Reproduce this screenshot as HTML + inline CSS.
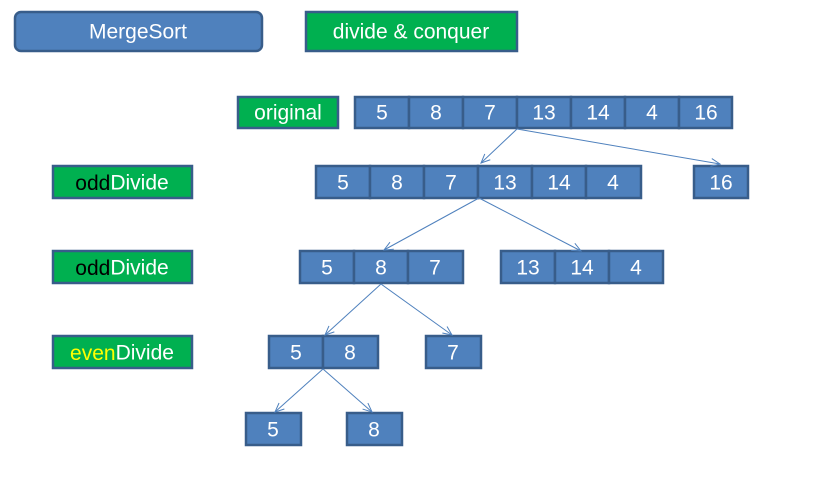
<!DOCTYPE html>
<html><head><meta charset="utf-8"><style>
html,body{margin:0;padding:0;background:#fff;width:819px;height:500px;overflow:hidden}
svg text{font-family:"Liberation Sans",sans-serif;font-size:21px;fill:#fff;text-anchor:middle;dominant-baseline:central}
</style></head><body>
<svg width="819" height="500" viewBox="0 0 819 500" xmlns="http://www.w3.org/2000/svg">
<defs>
<marker id="a" markerWidth="12" markerHeight="12" refX="10" refY="5" orient="auto" markerUnits="userSpaceOnUse">
<path d="M1,1 L10,5 L1,9" fill="none" stroke="#4f81bd" stroke-width="1"/>
</marker>
</defs>
<g stroke="#385d8a" stroke-width="2.5">
<rect x="15" y="12" width="247" height="39" rx="6" fill="#4f81bd"/>
<rect x="306" y="12" width="211" height="39" fill="#00b050"/>
<rect x="238" y="97" width="100" height="31" fill="#00b050"/>
<rect x="53" y="166" width="139" height="32" fill="#00b050"/>
<rect x="53" y="251" width="139" height="32" fill="#00b050"/>
<rect x="53" y="336" width="139" height="32" fill="#00b050"/>
<g fill="#4f81bd">
<rect x="355" y="97" width="54" height="31"/><rect x="409" y="97" width="54" height="31"/><rect x="463" y="97" width="54" height="31"/><rect x="517" y="97" width="54" height="31"/><rect x="571" y="97" width="54" height="31"/><rect x="625" y="97" width="54" height="31"/><rect x="679" y="97" width="53" height="31"/>
<rect x="316" y="166" width="54" height="32"/><rect x="370" y="166" width="54" height="32"/><rect x="424" y="166" width="54" height="32"/><rect x="478" y="166" width="54" height="32"/><rect x="532" y="166" width="54" height="32"/><rect x="586" y="166" width="55" height="32"/>
<rect x="694" y="166" width="54" height="32"/>
<rect x="300" y="251" width="54" height="32"/><rect x="354" y="251" width="54" height="32"/><rect x="408" y="251" width="55" height="32"/>
<rect x="501" y="251" width="54" height="32"/><rect x="555" y="251" width="54" height="32"/><rect x="609" y="251" width="54" height="32"/>
<rect x="269" y="336" width="54" height="32"/><rect x="323" y="336" width="55" height="32"/>
<rect x="426" y="336" width="55" height="32"/>
<rect x="246" y="413" width="55" height="32"/><rect x="347" y="413" width="55" height="32"/>
</g>
</g>
<g stroke="#4f81bd" stroke-width="1" marker-end="url(#a)">
<line x1="517" y1="129" x2="481" y2="163"/>
<line x1="517" y1="129" x2="720" y2="164"/>
<line x1="479" y1="198" x2="384" y2="250"/>
<line x1="479" y1="198" x2="581" y2="251"/>
<line x1="381" y1="284" x2="325" y2="335"/>
<line x1="381" y1="284" x2="452" y2="335"/>
<line x1="323" y1="369" x2="275" y2="412"/>
<line x1="323" y1="369" x2="372" y2="412"/>
</g>
<text x="138" y="32">MergeSort</text>
<text x="411" y="32">divide &amp; conquer</text>
<text x="288" y="113">original</text>
<text x="122" y="183"><tspan fill="#000">odd</tspan>Divide</text>
<text x="122" y="268"><tspan fill="#000">odd</tspan>Divide</text>
<text x="122" y="353"><tspan fill="#ffff00">even</tspan>Divide</text>
<text x="382" y="113">5</text><text x="436" y="113">8</text><text x="490" y="113">7</text><text x="544" y="113">13</text><text x="598" y="113">14</text><text x="652" y="113">4</text><text x="706" y="113">16</text>
<text x="343" y="183">5</text><text x="397" y="183">8</text><text x="451" y="183">7</text><text x="505" y="183">13</text><text x="559" y="183">14</text><text x="613" y="183">4</text>
<text x="721" y="183">16</text>
<text x="327" y="268">5</text><text x="381" y="268">8</text><text x="435" y="268">7</text>
<text x="528" y="268">13</text><text x="582" y="268">14</text><text x="636" y="268">4</text>
<text x="296" y="353">5</text><text x="350" y="353">8</text>
<text x="453" y="353">7</text>
<text x="273" y="430">5</text><text x="374" y="430">8</text>
</svg>
</body></html>
